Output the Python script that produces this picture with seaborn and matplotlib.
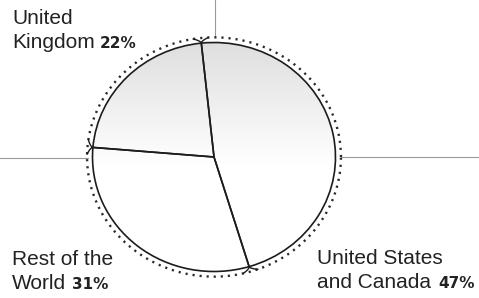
import numpy as np
import matplotlib
matplotlib.use("Agg")
import matplotlib.pyplot as plt
import seaborn as sns
from matplotlib.patches import Circle

# data
regions = ["United Kingdom", "Rest of the World", "United States and Canada"]
shares = [22, 31, 47]
label_top = ["United", "Rest of the", "United States"]
label_bottom = ["Kingdom", "World", "and Canada"]

sns.set_style("white")
plt.rcParams["font.family"] = ["Liberation Sans", "DejaVu Sans"]

W, H = 479, 298
fig = plt.figure(figsize=(W / 100, H / 100), dpi=100)

# background axes in pixel coordinates (y down) for labels and leader lines
ax = fig.add_axes([0, 0, 1, 1])
ax.set_xlim(0, W)
ax.set_ylim(H, 0)
ax.axis("off")

# pie axes: slightly squashed circle as in the scan
cx, cy, rx, ry = 214, 157, 121.5, 114.5
lim = 1.2
pax = fig.add_axes([(cx - lim * rx) / W, (H - cy - lim * ry) / H,
                    2 * lim * rx / W, 2 * lim * ry / H])
wedges, _ = pax.pie(shares, startangle=96, counterclock=True,
                    wedgeprops=dict(facecolor="none", edgecolor="#1c1c1c", linewidth=1.2))
pax.set_aspect("auto")
pax.set_xlim(-lim, lim)
pax.set_ylim(-lim, lim)
pax.axis("off")

# soft grey shading at the top of the disc
yy = np.linspace(1, -1, 200)[:, None]
shade = 0.87 + 0.13 * np.clip((1 - yy) / 1.1, 0, 1)
img = pax.imshow(np.repeat(shade, 2, axis=1), cmap="gray", vmin=0, vmax=1,
                 extent=(-1, 1, -1, 1), aspect="auto", zorder=0, interpolation="bilinear")
img.set_clip_path(Circle((0, 0), 1, transform=pax.transData))

# dotted outer circle
t = np.linspace(0, 2 * np.pi, 400)
rd = 1.045
pax.plot(rd * np.cos(t), rd * np.sin(t), color="#2a2a2a", lw=1.7,
         linestyle=(0, (0.9, 2.1)), clip_on=False)

# small brace hooks where the slice borders meet the circle
bounds = np.deg2rad(96 + 3.6 * np.cumsum([0] + shares[:-1]))
d = np.deg2rad(3.5)
for b in bounds:
    ph = np.linspace(b - d, b + d, 40)
    r = 1 + (rd - 1) * (np.abs(ph - b) / d) ** 0.6
    pax.plot(r * np.cos(ph), r * np.sin(ph), color="#1c1c1c", lw=1.0, clip_on=False)

# grey leader lines
lc = "#9a9a9a"
ax.plot([215, 215], [0, 37], color=lc, lw=0.8)
ax.plot([0, 88], [158, 158], color=lc, lw=0.8)
ax.plot([341, W], [157, 157], color=lc, lw=0.8)

# labels
tc = "#222222"
pos = [(12, 24, 48, 100), (12, 265, 289, 72), (317, 264, 288, 438)]
for (x, y1, y2, xp), top, bot, s in zip(pos, label_top, label_bottom, shares):
    ax.text(x, y1, top, fontsize=15, color=tc, va="baseline", ha="left")
    ax.text(x, y2, bot, fontsize=15, color=tc, va="baseline", ha="left")
    ax.text(xp, y2, f"{s}%", fontsize=11, fontweight="bold", color=tc,
            va="baseline", ha="left", family=["DejaVu Sans"])

fig.savefig("out.png", dpi=100, facecolor="white")
